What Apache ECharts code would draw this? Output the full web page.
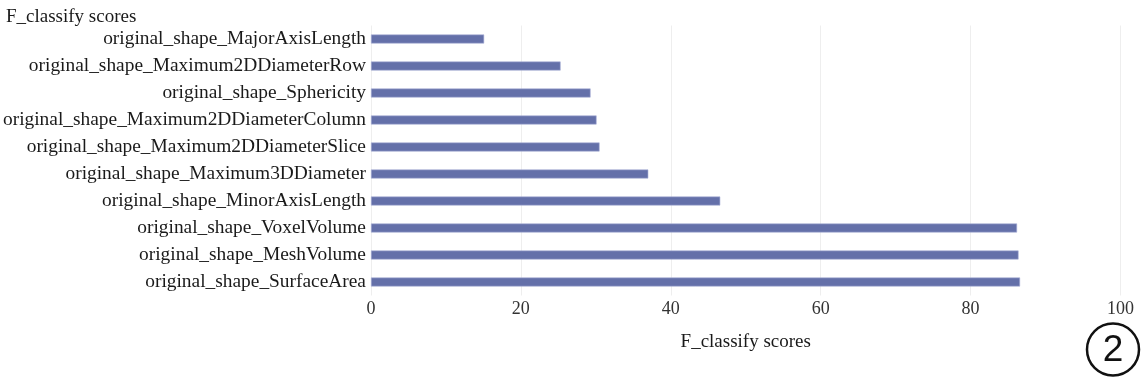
<!DOCTYPE html>
<html>
<head>
<meta charset="utf-8">
<script src="https://cdn.jsdelivr.net/npm/echarts@6/dist/echarts.min.js"></script>
<style>html,body{margin:0;padding:0;background:#fff}#c{width:1143px;height:379px}</style>
</head>
<body>
<div id="c"></div>
<script>
const categories = [
  'original_shape_MajorAxisLength',
  'original_shape_Maximum2DDiameterRow',
  'original_shape_Sphericity',
  'original_shape_Maximum2DDiameterColumn',
  'original_shape_Maximum2DDiameterSlice',
  'original_shape_Maximum3DDiameter',
  'original_shape_MinorAxisLength',
  'original_shape_VoxelVolume',
  'original_shape_MeshVolume',
  'original_shape_SurfaceArea'
];
const scores = [15.1, 25.3, 29.3, 30.1, 30.5, 37.0, 46.6, 86.2, 86.4, 86.6];
const axisTicks = [0, 20, 40, 60, 80, 100];

const FONT = '"Liberation Serif", "Times New Roman", serif';
const chart = echarts.init(document.getElementById('c'), null, {renderer: 'canvas'});
chart.setOption({
  animation: false,
  title: {
    text: 'F_classify scores', left: 1, top: 3,
    textStyle: {fontFamily: FONT, fontSize: 19, fontWeight: 'normal', color: '#1a1a1a'}
  },
  grid: {left: 370.5, right: 22.5, top: 25.5, height: 270, containLabel: false},
  xAxis: {
    type: 'value', min: axisTicks[0], max: axisTicks[axisTicks.length - 1], interval: 20,
    name: 'F_classify scores', nameLocation: 'middle', nameGap: 37,
    nameTextStyle: {fontFamily: FONT, fontSize: 19, color: '#1a1a1a'},
    axisLine: {show: false}, axisTick: {show: false},
    axisLabel: {fontFamily: FONT, fontSize: 18, color: '#333', margin: 5},
    splitLine: {show: true, lineStyle: {color: '#eeeeee', width: 1}}
  },
  yAxis: {
    type: 'category', data: categories, inverse: true,
    axisLine: {show: false}, axisTick: {show: false},
    axisLabel: {fontFamily: FONT, fontSize: 19.4, color: '#1a1a1a', margin: 5},
    splitLine: {show: false}
  },
  series: [{
    type: 'bar', data: scores, barWidth: 9,
    itemStyle: {color: '#6470a9', borderColor: '#a9b0d6', borderWidth: 0.6}
  }],
  graphic: [
    {type: 'circle', shape: {cx: 1113, cy: 349.5, r: 26}, style: {fill: 'none', stroke: '#111', lineWidth: 2.5}},
    {type: 'text', x: 1113, y: 351, style: {text: '2', fontFamily: '"Liberation Sans", Arial, sans-serif', fontSize: 37, fill: '#111', align: 'center', verticalAlign: 'middle'}}
  ]
});
</script>
</body>
</html>
